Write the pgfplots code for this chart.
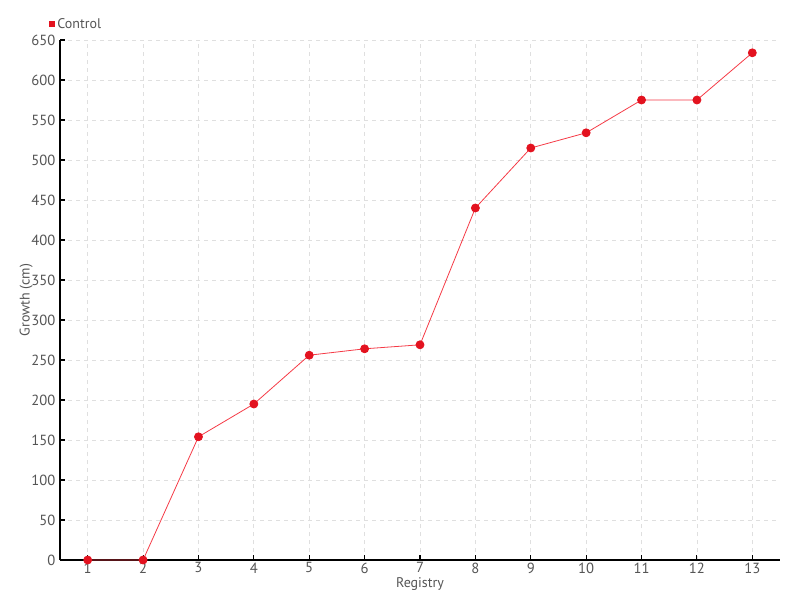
\documentclass[border=0pt]{standalone}
\usepackage{fontspec}
\setmainfont{PT Sans}
\usepackage{pgfplots}
\pgfplotsset{compat=1.18}
\definecolor{ctrl}{HTML}{E3121F}
\definecolor{ctrlline}{HTML}{F53A46}
\definecolor{txt}{HTML}{555555}
\begin{document}
\begin{tikzpicture}
\begin{axis}[
  scale only axis,
  width=540pt, height=390pt,
  xmin=0.5, xmax=13.5,
  ymin=0, ymax=650,
  xtick={1,...,13},
  ytick={0,50,...,650},
  axis lines*=left,
  axis line style={black, line width=0.8pt},
  tick style={black, line width=0.8pt},
  major tick length=4pt,
  xmajorgrids, ymajorgrids,
  grid style={gray!25, dashed, line width=0.6pt},
  tick label style={font=\fontsize{11}{12}\selectfont, text=txt},
  xticklabel style={yshift=1.5pt},
  label style={font=\fontsize{10.5}{12}\selectfont, text=txt},
  /pgf/number format/assume math mode=true,
  xlabel={Registry},
  ylabel={Growth (cm)},
  xlabel style={yshift=4pt},
  ylabel style={yshift=-8pt},
  legend style={draw=none, fill=none, at={(rel axis cs:-0.016,1.03)}, anchor=west,
    font=\fontsize{10.5}{12}\selectfont, text=txt, inner sep=0pt},
  legend image code/.code={\node[fill=ctrl, inner sep=0pt, minimum size=4.5pt] at (0.1cm,0) {};},
  legend cell align=left,
]
\addplot[color=ctrlline, line width=0.6pt, mark=*, mark size=3pt,
  mark options={fill=ctrl, draw=ctrl}] coordinates {
  (1,0) (2,0) (3,154) (4,195) (5,256) (6,264) (7,269) (8,440)
  (9,515) (10,534) (11,575) (12,575) (13,634)};
\legend{Control}
\end{axis}
\path[use as bounding box] (-45pt,-30pt) rectangle (555pt,420pt);
\end{tikzpicture}
\end{document}
